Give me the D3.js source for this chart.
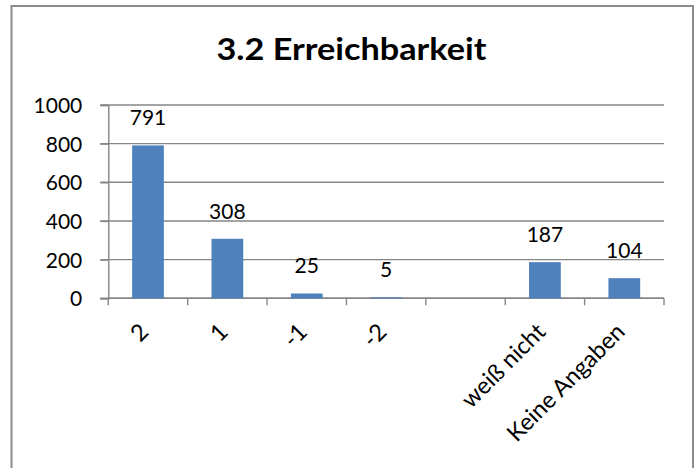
<!DOCTYPE html>
<html>
<head>
<meta charset="utf-8">
<script src="https://cdn.jsdelivr.net/npm/d3@7"></script>
<style>
  html, body { margin: 0; padding: 0; background: #fff; }
  svg { display: block; }
  text { font-family: Lato, "Open Sans", sans-serif; fill: #000; }
</style>
</head>
<body>
<svg id="chart" width="700" height="468"></svg>
<script>
// Survey answers for "3.2 Erreichbarkeit"
const categories = ["2", "1", "-1", "-2", "", "weiß nicht", "Keine Angaben"];
const counts = [791, 308, 25, 5, null, 187, 104];
const yTicks = [0, 200, 400, 600, 800, 1000];
const title = "3.2 Erreichbarkeit";

const data = categories.map((c, i) => ({ cat: c, value: counts[i] }));

const svg = d3.select("#chart");
const plot = { left: 108.3, right: 664, top: 105, bottom: 298.3 };
const gridColor = "#868686";

// chart frame
svg.append("rect")
  .attr("x", 11.5).attr("y", 6).attr("width", 681.5).attr("height", 480)
  .attr("fill", "#fff").attr("stroke", "#8c8c8c").attr("stroke-width", 2);

// title
svg.append("text")
  .attr("x", 351.5).attr("y", 60)
  .attr("text-anchor", "middle")
  .attr("font-size", 30).attr("font-weight", 700)
  .attr("textLength", 270).attr("lengthAdjust", "spacingAndGlyphs")
  .text(title);

const x = d3.scaleBand().domain(categories).range([plot.left, plot.right]).padding(0);
const y = d3.scaleLinear().domain([0, 1000]).range([plot.bottom, plot.top]);

// horizontal gridlines
svg.append("g").selectAll("line").data(yTicks).join("line")
  .attr("x1", plot.left - 8).attr("x2", plot.right)
  .attr("y1", d => y(d)).attr("y2", d => y(d))
  .attr("stroke", gridColor).attr("stroke-width", 1.4);

// value axis
const yAxis = svg.append("g")
  .attr("transform", `translate(${plot.left},0)`)
  .call(d3.axisLeft(y).tickValues(yTicks).tickSize(8).tickPadding(18).tickFormat(d3.format("d")));
yAxis.select(".domain").attr("stroke", gridColor).attr("stroke-width", 1.4);
yAxis.selectAll(".tick line").attr("stroke", gridColor).attr("stroke-width", 1.4);
yAxis.selectAll(".tick text")
  .attr("font-size", 21).attr("font-family", "Lato, 'Open Sans', sans-serif")
  .attr("fill", "#000").attr("dy", "0.36em");

// category axis line and ticks at band edges
const edges = categories.map(c => x(c)).concat([x.range()[1]]);
svg.append("line")
  .attr("x1", plot.left).attr("x2", plot.right)
  .attr("y1", plot.bottom).attr("y2", plot.bottom)
  .attr("stroke", gridColor).attr("stroke-width", 1.4);
svg.append("g").selectAll("line").data(edges).join("line")
  .attr("x1", d => d).attr("x2", d => d)
  .attr("y1", plot.bottom).attr("y2", plot.bottom + 7)
  .attr("stroke", gridColor).attr("stroke-width", 1.4);

// bars
const barW = x.bandwidth() / 2.5;
const barData = data.filter(d => d.value !== null);
svg.append("g").selectAll("rect").data(barData).join("rect")
  .attr("x", d => x(d.cat) + (x.bandwidth() - barW) / 2)
  .attr("width", barW)
  .attr("y", d => y(d.value))
  .attr("height", d => y(0) - y(d.value))
  .attr("fill", "#4F81BD");

// value labels
svg.append("g").selectAll("text").data(barData).join("text")
  .attr("x", d => x(d.cat) + x.bandwidth() / 2)
  .attr("y", d => y(d.value) - 20)
  .attr("text-anchor", "middle")
  .attr("font-size", 21)
  .text(d => d.value);

// rotated category labels
svg.append("g").selectAll("text").data(data.filter(d => d.cat !== "")).join("text")
  .attr("text-anchor", "end")
  .attr("font-size", 23.5)
  .attr("transform", d => `translate(${x(d.cat) + x.bandwidth() / 2 + 2},${plot.bottom + 35}) rotate(-45)`)
  .text(d => d.cat);
</script>
</body>
</html>
